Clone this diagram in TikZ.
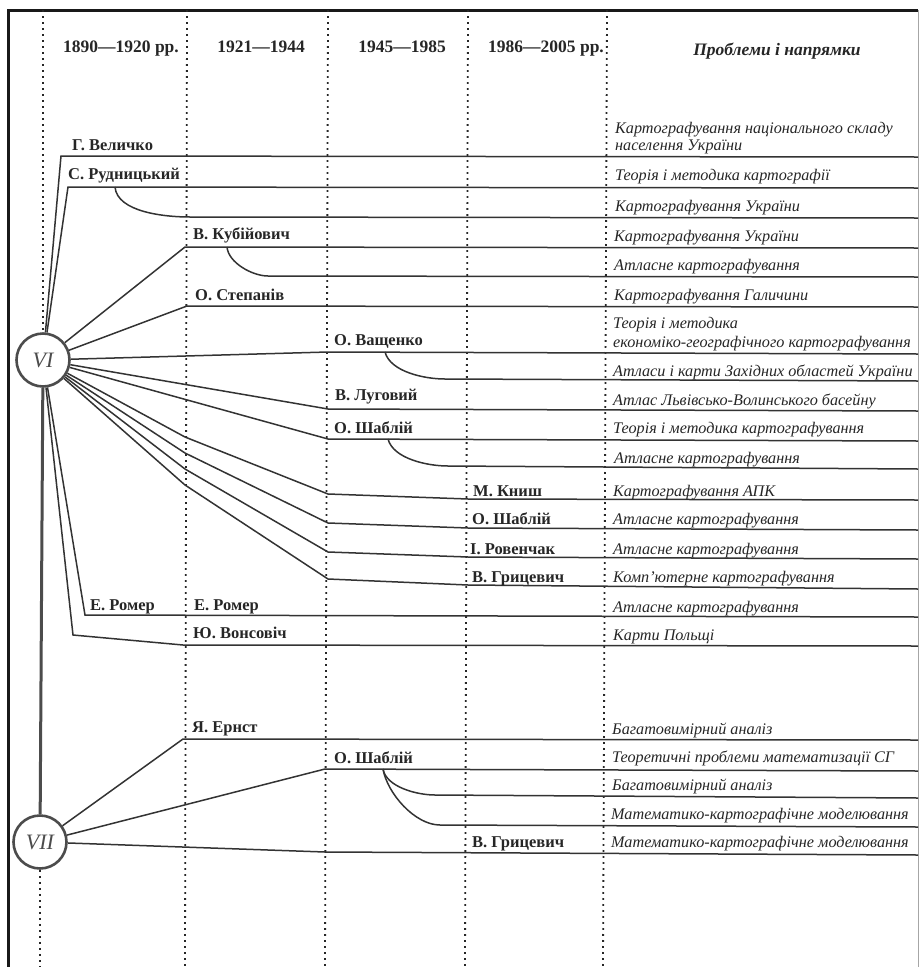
\documentclass[tikz,border=0pt]{standalone}
\usepackage{fontspec}
\setmainfont{Liberation Serif}
\usepackage{tikz}
\usetikzlibrary{calc, positioning}
\tikzset{
    era/.style={circle, draw=black!70, line width=2.6pt, fill=white, minimum size=53pt, inner sep=0pt, font=\fontsize{22}{24}\selectfont\itshape, text=black!70},
    link/.style={draw=black!80, line width=1.5pt},
    spine/.style={draw=black!70, line width=3pt},
    grid/.style={draw=black!85, line width=1.8pt, dash pattern=on 1.8pt off 4.2pt},
    frame/.style={draw=black!90, line width=3pt},
    period/.style={font=\fontsize{17.5}{20}\selectfont\bfseries, anchor=base, inner sep=0pt, text=black!85},
    person/.style={font=\fontsize{16.5}{19}\selectfont\bfseries, anchor=base west, inner sep=0pt, text=black!85},
    topic/.style={font=\fontsize{16.2}{19}\selectfont\itshape, anchor=base west, inner sep=0pt, text=black!85}
}

\begin{document}
\begin{tikzpicture}[x=1pt, y=-1pt]
    \useasboundingbox (0,0) rectangle (920,967);

    % Frame
    \draw[frame] (8,967) -- (8,10) -- (918,10);
    \draw[black!35, line width=0.8pt] (918,10) -- (918,967);

    % Eras
    \node[era] (VI) at (43,360) {VI};
    \node[era] (VII) at (40,842) {VII};

    % Period columns
    \draw[grid] (43,10) -- (VI.north);
    \draw[grid] (VII.south) -- (40,967);
    \draw[grid] (187,10) -- (185,967);
    \draw[grid] (328,10) -- (325,967);
    \draw[grid] (468,10) -- (465,967);
    \draw[grid] (607,10) -- (603,967);

    \node[period] (p1) at (121,52) {1890---1920 рр.};
    \node[period] (p2) at (261,52) {1921---1944};
    \node[period] (p3) at (402,52) {1945---1985};
    \node[period] (p4) at (546,52) {1986---2005 рр.};
    \node[period, font=\fontsize{17.5}{20}\selectfont\bfseries\itshape] (p5) at (777,55) {Проблеми і напрямки};

    % Bends and ends, group VI
    \coordinate (velB) at (61,156);   \coordinate (velE) at (918,157);
    \coordinate (rudB) at (68,187);   \coordinate (rudE) at (918,188);
    \coordinate (rudS) at (115,187);  \coordinate (rudC) at (190,217);  \coordinate (rudCE) at (918,218);
    \coordinate (kubB) at (185,247);  \coordinate (kubE) at (918,248);
    \coordinate (kubS) at (227,247);  \coordinate (kubC) at (268,276);  \coordinate (kubCE) at (918,277);
    \coordinate (steB) at (187,306);  \coordinate (steE) at (918,307);
    \coordinate (vasB) at (328,352);  \coordinate (vasE) at (918,354);
    \coordinate (vasS) at (385,352);  \coordinate (vasC) at (445,379);  \coordinate (vasCE) at (918,381);
    \coordinate (lugB) at (328,409);  \coordinate (lugE) at (918,411);
    \coordinate (shaB) at (328,439);  \coordinate (shaE) at (918,441);
    \coordinate (shaS) at (388,439);  \coordinate (shaC) at (448,466);  \coordinate (shaCE) at (918,469);
    \coordinate (knyA) at (185,437);  \coordinate (knyB) at (328,494);  \coordinate (knyC) at (468,499);  \coordinate (knyE) at (918,500);
    \coordinate (sh2A) at (185,453);  \coordinate (sh2B) at (328,523);  \coordinate (sh2C) at (468,528);  \coordinate (sh2E) at (918,530);
    \coordinate (rovA) at (185,469);  \coordinate (rovB) at (328,552);  \coordinate (rovC) at (468,557);  \coordinate (rovE) at (918,559);
    \coordinate (gryA) at (185,485);  \coordinate (gryB) at (328,579);  \coordinate (gryC) at (468,585);  \coordinate (gryE) at (918,589);
    \coordinate (romB) at (85,615);   \coordinate (romE) at (918,617);
    \coordinate (vonA) at (73,635);   \coordinate (vonB) at (183,645);  \coordinate (vonE) at (918,646);

    % Links, group VI
    \draw[link] (VI) -- (velB) -- (velE);
    \draw[link] (VI) -- (rudB) -- (rudE);
    \draw[link] (rudS) to[out=-85, in=180, looseness=0.8] (rudC) -- (rudCE);
    \draw[link] (VI) -- (kubB) -- (kubE);
    \draw[link] (kubS) to[out=-85, in=180, looseness=0.8] (kubC) -- (kubCE);
    \draw[link] (VI) -- (steB) -- (steE);
    \draw[link] (VI) -- (vasB) -- (vasE);
    \draw[link] (vasS) to[out=-75, in=180, looseness=0.8] (vasC) -- (vasCE);
    \draw[link] (VI) -- (lugB) -- (lugE);
    \draw[link] (VI) -- (shaB) -- (shaE);
    \draw[link] (shaS) to[out=-75, in=180, looseness=0.8] (shaC) -- (shaCE);
    \draw[link] (VI) -- (knyA) -- (knyB) -- (knyC) -- (knyE);
    \draw[link] (VI) -- (sh2A) -- (sh2B) -- (sh2C) -- (sh2E);
    \draw[link] (VI) -- (rovA) -- (rovB) -- (rovC) -- (rovE);
    \draw[link] (VI) -- (gryA) -- (gryB) -- (gryC) -- (gryE);
    \draw[link] (VI) -- (romB) -- (romE);
    \draw[link] (VI) -- (vonA) -- (vonB) -- (vonE);

    % Bends and ends, group VII
    \coordinate (ernB) at (183,739);  \coordinate (ernE) at (918,740);
    \coordinate (sh3B) at (325,769);  \coordinate (sh3E) at (918,771);
    \coordinate (sh3S) at (383,769);
    \coordinate (sh3C) at (435,795);  \coordinate (sh3CE) at (918,798);
    \coordinate (sh3D) at (440,825);  \coordinate (sh3DE) at (918,827);
    \coordinate (gr2B) at (325,852);  \coordinate (gr2E) at (918,855);

    % Links, group VII
    \draw[spine] (VI) -- (VII);
    \draw[link] (VII) -- (ernB) -- (ernE);
    \draw[link] (VII) -- (sh3B) -- (sh3E);
    \draw[link] (sh3S) to[out=-80, in=180, looseness=0.8] (sh3C) -- (sh3CE);
    \draw[link] (sh3S) to[out=-80, in=180, looseness=0.8] (sh3D) -- (sh3DE);
    \draw[link] (VII) -- (gr2B) -- (gr2E);

    % Persons
    \node[person] (nVel) at (72,150) {Г. Величко};
    \node[person] (nRud) at (68,179) {С. Рудницький};
    \node[person] (nKub) at (193,239) {В. Кубійович};
    \node[person] (nSte) at (195,300) {О. Степанів};
    \node[person] (nVas) at (334,345) {О. Ващенко};
    \node[person] (nLug) at (335,400) {В. Луговий};
    \node[person] (nSha) at (334,433) {О. Шаблій};
    \node[person] (nKny) at (473,496) {М. Книш};
    \node[person] (nSh2) at (472,524) {О. Шаблій};
    \node[person] (nRov) at (470,554) {І. Ровенчак};
    \node[person] (nGry) at (472,582) {В. Грицевич};
    \node[person] (nRo1) at (90,610) {Е. Ромер};
    \node[person] (nRo2) at (194,610) {Е. Ромер};
    \node[person] (nVon) at (193,638) {Ю. Вонсовіч};
    \node[person] (nErn) at (192,732) {Я. Ернст};
    \node[person] (nSh3) at (334,763) {О. Шаблій};
    \node[person] (nGr2) at (472,847) {В. Грицевич};

    % Topics
    \node[topic] (t1a) at (615,133) {Картографування національного складу};
    \node[topic] (t1b) at (615,150) {населення України};
    \node[topic] (t2) at (615,180) {Теорія і методика картографії};
    \node[topic] (t3) at (615,211) {Картографування України};
    \node[topic] (t4) at (614,241) {Картографування України};
    \node[topic] (t5) at (614,270) {Атласне картографування};
    \node[topic] (t6) at (614,300) {Картографування Галичини};
    \node[topic] (t7a) at (613,328) {Теорія і методика};
    \node[topic] (t7b) at (613,347) {економіко-географічного картографування};
    \node[topic] (t8) at (613,376) {Атласи і карти Західних областей України};
    \node[topic] (t9) at (613,405) {Атлас Львівсько-Волинського басейну};
    \node[topic] (t10) at (613,433) {Теорія і методика картографування};
    \node[topic] (t11) at (614,463) {Атласне картографування};
    \node[topic] (t12) at (613,496) {Картографування АПК};
    \node[topic] (t13) at (613,524) {Атласне картографування};
    \node[topic] (t14) at (613,554) {Атласне картографування};
    \node[topic] (t15) at (613,582) {Комп’ютерне картографування};
    \node[topic] (t16) at (613,612) {Атласне картографування};
    \node[topic] (t17) at (613,640) {Карти Польщі};
    \node[topic] (t18) at (612,734) {Багатовимірний аналіз};
    \node[topic] (t19) at (612,762) {Теоретичні проблеми математизації СГ};
    \node[topic] (t20) at (612,790) {Багатовимірний аналіз};
    \node[topic] (t21) at (611,819) {Математико-картографічне моделювання};
    \node[topic] (t22) at (611,847) {Математико-картографічне моделювання};
\end{tikzpicture}
\end{document}
